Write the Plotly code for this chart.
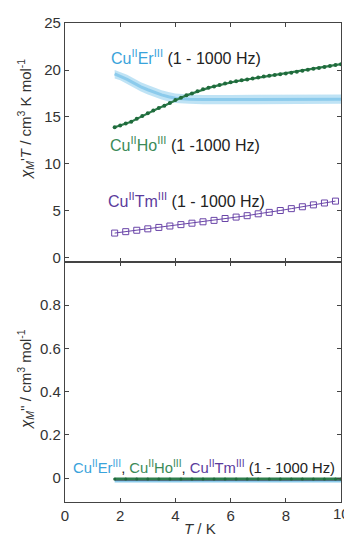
import plotly.graph_objects as go

# ---------------- data ----------------
T_er = [1.8, 2.0, 2.25, 2.5, 2.75, 3.0, 3.25, 3.5, 3.75, 4.0, 4.5, 5.0, 6.0, 7.0, 8.0, 9.0, 10.0]
er_upper = [20.0, 19.8, 19.5, 19.1, 18.7, 18.4, 18.1, 17.85, 17.65, 17.5, 17.4, 17.35, 17.35, 17.35, 17.35, 17.35, 17.4]
er_center = [19.6, 19.35, 19.0, 18.6, 18.2, 17.9, 17.6, 17.35, 17.15, 17.0, 16.9, 16.85, 16.85, 16.85, 16.85, 16.85, 16.9]
er_lower = [19.1, 18.9, 18.5, 18.1, 17.7, 17.4, 17.1, 16.85, 16.65, 16.5, 16.4, 16.35, 16.35, 16.35, 16.35, 16.35, 16.4]

T_ho = [1.8, 2.0, 2.2, 2.4, 2.6, 2.8, 3.0, 3.2, 3.4, 3.6, 3.8, 4.0, 4.2, 4.4, 4.6, 4.8, 5.0,
        5.2, 5.4, 5.6, 5.8, 6.0, 6.2, 6.4, 6.6, 6.8, 7.0, 7.2, 7.4, 7.6, 7.8, 8.0, 8.2,
        8.4, 8.6, 8.8, 9.0, 9.2, 9.4, 9.6, 9.8, 10.0]
ho_chiT = [13.9, 14.1, 14.3, 14.5, 14.8, 15.1, 15.4, 15.7, 15.95, 16.2, 16.5, 16.8, 17.05, 17.3,
           17.5, 17.75, 17.95, 18.1, 18.25, 18.4, 18.55, 18.7, 18.8, 18.9, 19.0, 19.1, 19.2,
           19.3, 19.38, 19.46, 19.54, 19.62, 19.72, 19.82, 19.92, 20.02, 20.12, 20.22, 20.32,
           20.42, 20.52, 20.62]

T_tm = [1.8, 2.2, 2.6, 3.0, 3.4, 3.8, 4.2, 4.6, 5.0, 5.4, 5.8, 6.2, 6.6, 7.0, 7.4, 7.8, 8.2,
        8.6, 9.0, 9.4, 9.8]
tm_chiT = [2.65, 2.8, 2.95, 3.1, 3.25, 3.4, 3.55, 3.7, 3.85, 4.0, 4.2, 4.35, 4.5, 4.7, 4.85,
           5.05, 5.25, 5.45, 5.65, 5.85, 6.05]

T_ac2 = [1.8, 2.2, 2.6, 3.0, 3.4, 3.8, 4.2, 4.6, 5.0, 5.4, 5.8, 6.2, 6.6, 7.0, 7.4, 7.8, 8.2,
         8.6, 9.0, 9.4, 9.8, 10.0]
er_chi2 = [-0.012, -0.012, -0.012, -0.012, -0.012, -0.012, -0.012, -0.012, -0.012, -0.012, -0.012,
           -0.012, -0.012, -0.012, -0.012, -0.012, -0.012, -0.012, -0.012, -0.012, -0.012, -0.012]
tm_chi2 = [-0.008, -0.008, -0.008, -0.008, -0.008, -0.008, -0.008, -0.008, -0.008, -0.008, -0.008,
           -0.008, -0.008, -0.008, -0.008, -0.008, -0.008, -0.008, -0.008, -0.008, -0.008, -0.008]
ho_chi2 = [-0.004, -0.004, -0.004, -0.004, -0.004, -0.004, -0.004, -0.004, -0.004, -0.004, -0.004,
           -0.004, -0.004, -0.004, -0.004, -0.004, -0.004, -0.004, -0.004, -0.004, -0.004, -0.004]

x_ticks = [0, 2, 4, 6, 8, 10]
y_top_ticks = [0, 5, 10, 15, 20, 25]
y_bot_ticks = [0, 0.2, 0.4, 0.6, 0.8]

# ---------------- styling ----------------
FONT = "Liberation Sans, Arial, sans-serif"
C_ER = "#8ccbec"
C_ER_TXT = "#3aa3db"
C_HO = "#2e7d4c"
C_HO_TXT = "#3b8a58"
C_TM = "#6a45a8"
C_TM_TXT = "#5b3b9c"
AX = "#444444"

fig = go.Figure()

# ---- top panel (x2, y2) ----
fig.add_trace(go.Scatter(x=T_er, y=er_upper, mode="lines", line=dict(width=0, color=C_ER),
                         xaxis="x2", yaxis="y2", showlegend=False, hoverinfo="skip"))
fig.add_trace(go.Scatter(x=T_er, y=er_lower, mode="lines", line=dict(width=0, color=C_ER),
                         fill="tonexty", fillcolor="rgba(170,218,242,0.75)",
                         xaxis="x2", yaxis="y2", showlegend=False, hoverinfo="skip"))
fig.add_trace(go.Scatter(x=T_er, y=er_center, mode="lines", line=dict(width=3, color=C_ER),
                         xaxis="x2", yaxis="y2", showlegend=False))
fig.add_trace(go.Scatter(x=T_ho, y=ho_chiT, mode="lines+markers",
                         line=dict(width=2.2, color=C_HO),
                         marker=dict(size=4, color="#1f6b3c", symbol="circle"),
                         xaxis="x2", yaxis="y2", showlegend=False))
fig.add_trace(go.Scatter(x=T_tm, y=tm_chiT, mode="lines+markers",
                         line=dict(width=1, color=C_TM),
                         marker=dict(size=6, symbol="square-open", color=C_TM, line=dict(width=1)),
                         xaxis="x2", yaxis="y2", showlegend=False))

# ---- bottom panel (x, y) ----
fig.add_trace(go.Scatter(x=T_ac2, y=er_chi2, mode="lines", line=dict(width=4, color=C_ER),
                         xaxis="x", yaxis="y", showlegend=False))
fig.add_trace(go.Scatter(x=T_ac2, y=tm_chi2, mode="lines", line=dict(width=2, color=C_TM),
                         xaxis="x", yaxis="y", showlegend=False))
fig.add_trace(go.Scatter(x=T_ac2, y=ho_chi2, mode="lines+markers", line=dict(width=3, color=C_HO),
                         marker=dict(size=3, color="#1f6b3c"),
                         xaxis="x", yaxis="y", showlegend=False))

TICKFONT = dict(family=FONT, size=15, color="#333333")
axis_common = dict(showline=True, linecolor=AX, linewidth=1.2, mirror="ticks",
                   ticks="inside", ticklen=4, tickwidth=1, tickcolor=AX,
                   showgrid=False, zeroline=False, tickfont=TICKFONT)

split = 0.501
fig.update_layout(
    width=344, height=537,
    margin=dict(l=65, r=3, t=23, b=35),
    paper_bgcolor="white", plot_bgcolor="white",
    font=dict(family=FONT, size=14, color="#222222"),
    xaxis=dict(domain=[0, 1], range=[0, 10], tickvals=x_ticks[:-1], anchor="y", **axis_common),
    yaxis=dict(domain=[0, split], range=[-0.111, 1.0], tickvals=y_bot_ticks,
               ticktext=["0", "0.2", "0.4", "0.6", "0.8"], anchor="x", **axis_common),
    xaxis2=dict(domain=[0, 1], range=[0, 10], tickvals=x_ticks, showticklabels=False,
                anchor="y2", **axis_common),
    yaxis2=dict(domain=[split, 1], range=[-0.43, 25], tickvals=y_top_ticks, anchor="x2",
                **axis_common),
)

W, H = 344, 537
def px(xp):
    return (xp - 65) / (W - 65 - 3)
def py(yp):
    return (502 - yp) / (502 - 23)

# last x tick label (partly cut by the page edge, as in the reference)
fig.add_annotation(text=str(x_ticks[-1]), xref="x", yref="paper", x=x_ticks[-1], y=py(513),
                   xanchor="center", yanchor="middle", showarrow=False, font=TICKFONT)

def lbl(name_html, tail, x, y, size=16):
    fig.add_annotation(text=name_html + "<span style='color:#222222'>" + tail + "</span>",
                       xref="paper", yref="paper", x=x, y=y, xanchor="left", yanchor="middle",
                       showarrow=False, font=dict(family=FONT, size=size))

lbl("<span style='color:%s'>Cu<sup>II</sup>Er<sup>III</sup></span>" % C_ER_TXT, " (1 - 1000 Hz)", px(109), py(57))
lbl("<span style='color:%s'>Cu<sup>II</sup>Ho<sup>III</sup></span>" % C_HO_TXT, " (1 -1000 Hz)", px(108), py(144))
lbl("<span style='color:%s'>Cu<sup>II</sup>Tm<sup>III</sup></span>" % C_TM_TXT, " (1 - 1000 Hz)", px(106), py(200))
fig.add_annotation(
    text=("<span style='color:%s'>Cu<sup>II</sup>Er<sup>III</sup></span>, "
          "<span style='color:%s'>Cu<sup>II</sup>Ho<sup>III</sup></span>, "
          "<span style='color:%s'>Cu<sup>II</sup>Tm<sup>III</sup></span>"
          "<span style='color:#222222'> (1 - 1000 Hz)</span>") % (C_ER_TXT, C_HO_TXT, C_TM_TXT),
    xref="paper", yref="paper", x=px(71), y=py(467), xanchor="left", yanchor="middle",
    showarrow=False, font=dict(family=FONT, size=14.8))

# axis titles
fig.add_annotation(text="<i>χ<sub>M</sub></i>'<i>T</i> / cm<sup>3</sup> K mol<sup>-1</sup>",
                   xref="paper", yref="paper", x=px(25), y=py(120), textangle=-90,
                   xanchor="center", yanchor="middle", showarrow=False,
                   font=dict(family=FONT, size=15, color="#333333"))
fig.add_annotation(text="<i>χ<sub>M</sub></i>'' / cm<sup>3</sup> mol<sup>-1</sup>",
                   xref="paper", yref="paper", x=px(25), y=py(380), textangle=-90,
                   xanchor="center", yanchor="middle", showarrow=False,
                   font=dict(family=FONT, size=15, color="#333333"))
fig.add_annotation(text="<i>T</i> / K", xref="paper", yref="paper", x=px(200), y=py(528),
                   xanchor="center", yanchor="middle", showarrow=False,
                   font=dict(family=FONT, size=15, color="#333333"))

fig.write_html("out.html")
